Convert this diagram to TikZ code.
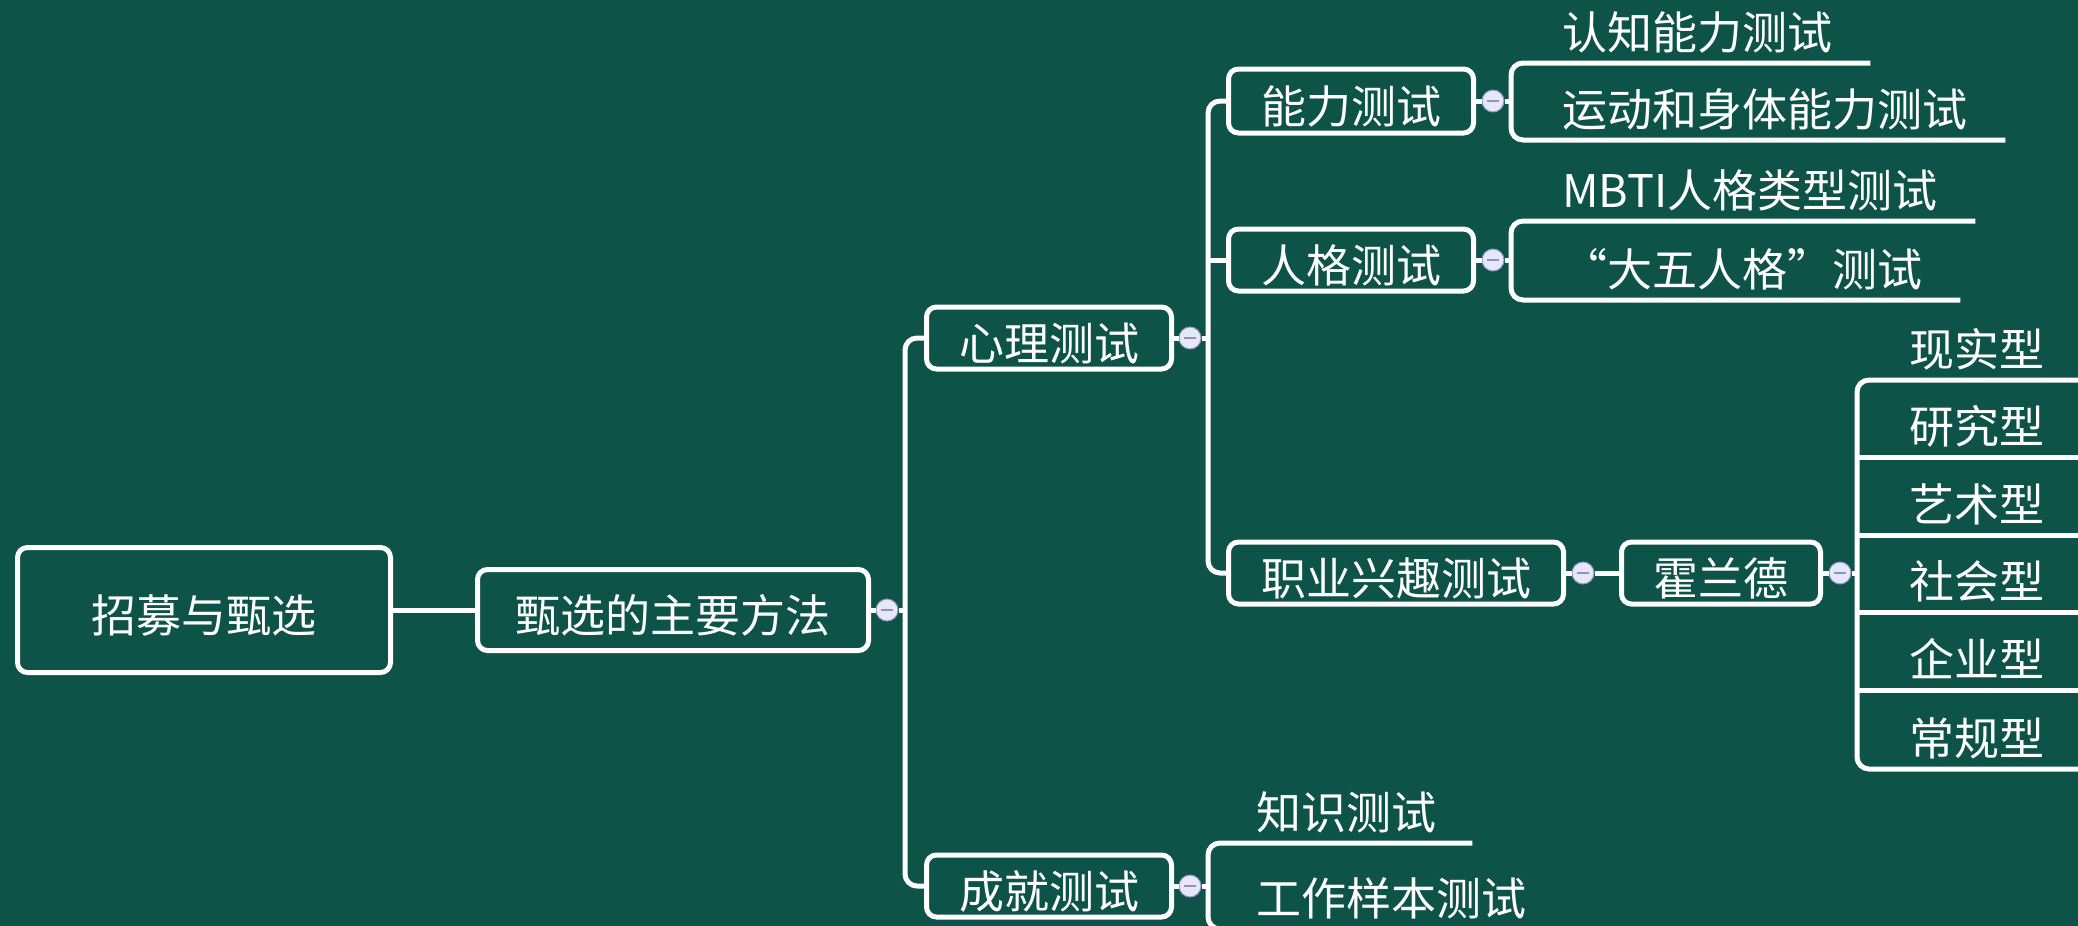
\documentclass[tikz,border=0pt]{standalone}
\usepackage{fontspec}
\newfontfamily\cjk{Noto Sans CJK SC}
\definecolor{bg}{HTML}{0D5348}
\definecolor{knobfill}{HTML}{E6E7F7}
\definecolor{knobline}{HTML}{8F92C4}
\begin{document}
\begin{tikzpicture}[x=1pt,y=-1pt,
  every node/.style={font=\cjk\fontsize{45}{54}\selectfont, text=white},
  box/.style={draw=white, line width=5pt, rounded corners=10pt, inner sep=0pt, text height=46pt, text depth=2pt},
  conn/.style={draw=white, line width=5pt, rounded corners=12pt},
  leaf/.style={anchor=south west, inner xsep=38pt, inner ysep=0pt, text height=36pt, text depth=13pt},
  knob/.style={circle, fill=knobfill, draw=knobline, line width=1pt, minimum size=22pt, inner sep=0pt,
    path picture={\draw[knobline, line width=2.5pt] ([xshift=-6pt]path picture bounding box.center) -- ([xshift=6pt]path picture bounding box.center);}}
]
\fill[bg] (0,0) rectangle (2078,926);
\useasboundingbox (0,0) rectangle (2078,926);

% main boxes
\node[box, minimum width=373pt, minimum height=125pt] (root) at (204,610) {招募与甄选};
\node[box, minimum width=391pt, minimum height=81pt] (main) at (673,610) {甄选的主要方法};
\node[knob] (k1) at (887,610) {};
\node[box, minimum width=245pt, minimum height=62pt] (xl) at (1049,338) {心理测试};
\node[box, minimum width=245pt, minimum height=62pt] (cj) at (1049,886) {成就测试};
\node[knob] (k2) at (1190,338) {};
\node[knob] (k3) at (1190,886) {};
\node[box, minimum width=245pt, minimum height=64pt] (nl) at (1351,101) {能力测试};
\node[box, minimum width=245pt, minimum height=62pt] (rg) at (1351,260) {人格测试};
\node[box, minimum width=335pt, minimum height=62pt] (zy) at (1396,573) {职业兴趣测试};
\node[knob] (k4) at (1493,101) {};
\node[knob] (k5) at (1493,260) {};
\node[knob] (k6) at (1583,573) {};
\node[box, minimum width=199pt, minimum height=62pt] (hld) at (1721,573) {霍兰德};
\node[knob] (k7) at (1840,573) {};

% leaves
\node[leaf] (l1) at (1524,63) {认知能力测试};
\node[leaf] (l2) at (1524,140) {运动和身体能力测试};
\node[leaf] (l3) at (1524,221) {MBTI人格类型测试};
\node[leaf] (l4) at (1524,300) {“大五人格”测试};
\node[leaf, inner xsep=40pt] (h1) at (1869,380) {现实型};
\node[leaf, inner xsep=40pt] (h2) at (1869,457) {研究型};
\node[leaf, inner xsep=40pt] (h3) at (1869,535) {艺术型};
\node[leaf, inner xsep=40pt] (h4) at (1869,612) {社会型};
\node[leaf, inner xsep=40pt] (h5) at (1869,690) {企业型};
\node[leaf, inner xsep=40pt] (h6) at (1869,769) {常规型};
\node[leaf, inner xsep=36pt] (a1) at (1220,843) {知识测试};
\node[leaf, inner xsep=36pt] (a2) at (1220,929) {工作样本测试};

% junction coordinates
\coordinate (t1) at (905,610);
\coordinate (t2) at (1208,338);
\coordinate (b1) at (1511,101);
\coordinate (b2) at (1511,260);
\coordinate (b3) at (1857,573);
\coordinate (b4) at (1208,886);

% connectors
\draw[conn] (root) -- (main);
\draw[conn] (main) -- (k1);
\draw[conn] (k1) -- (t1);
\draw[conn] (xl.west) -| (t1) |- (cj.west);
\draw[conn] (xl) -- (k2);
\draw[conn] (cj) -- (k3);
\draw[conn] (k2) -- (t2);
\draw[conn] (nl.west) -| (t2) |- (zy.west);
\draw[conn] (rg.west) -- (rg.west -| t2);
\draw[conn] (nl) -- (k4);
\draw[conn] (rg) -- (k5);
\draw[conn] (zy) -- (k6);
\draw[conn] (k6) -- (hld);
\draw[conn] (hld) -- (k7);
\draw[conn] (k4) -- (b1);
\draw[conn] (l1.south east) -| (b1) |- (l2.south east);
\draw[conn] (k5) -- (b2);
\draw[conn] (l3.south east) -| (b2) |- (l4.south east);
\draw[conn] (k7) -- (b3);
\draw[conn] (h1.south east) -| (b3) |- (h6.south east);
\draw[conn] (h2.south east) -- (h2.south east -| b3);
\draw[conn] (h3.south east) -- (h3.south east -| b3);
\draw[conn] (h4.south east) -- (h4.south east -| b3);
\draw[conn] (h5.south east) -- (h5.south east -| b3);
\draw[conn] (k3) -- (b4);
\draw[conn] (a1.south east) -| (b4) |- (a2.south east);
\end{tikzpicture}
\end{document}
